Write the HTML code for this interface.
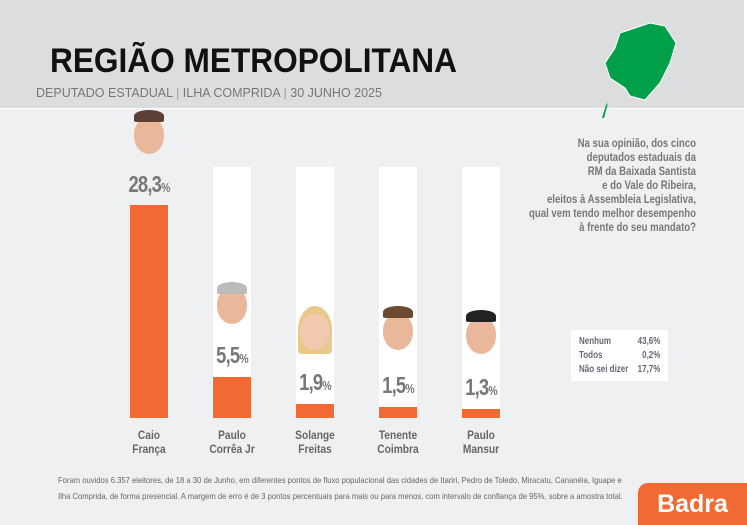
<!DOCTYPE html>
<html><head><meta charset="utf-8"><style>
body{margin:0;width:747px;height:525px;overflow:hidden;background:#fff;font-family:"Liberation Sans",sans-serif}
.hdr{position:absolute;left:0;top:0;width:744px;height:108px;background:#dcdddf}
.bd{position:absolute;left:0;top:109px;width:744px;height:416px;background:#eff0f2}
.t{position:absolute;left:50px;top:42px;font-size:34px;font-weight:bold;color:#111;white-space:nowrap;transform:scaleX(0.93);transform-origin:left}
.sub{position:absolute;left:36px;top:86px;font-size:12.5px;color:#777;white-space:nowrap}
.wb{position:absolute;top:167px;width:38px;height:251px;background:#fff}
.ob{position:absolute;width:38px;background:#f26a33;bottom:107px}
.pct{position:absolute;width:80px;text-align:center;font-weight:bold;color:#777;font-size:23px;letter-spacing:-1px;transform:scaleX(.8)}
.pct small{font-size:13px}
.nm{position:absolute;top:428px;width:80px;text-align:center;font-size:12px;font-weight:bold;color:#666;line-height:14px;transform:scaleX(.85)}
.face{position:absolute;width:30px;height:36px;border-radius:45% 45% 50% 50%;background:#e9b89a}
.hair{position:absolute;width:30px;height:12px;border-radius:50% 50% 10% 10%}
.q{position:absolute;left:440px;top:136px;width:256px;text-align:right;font-size:12px;font-weight:bold;color:#777;line-height:14px;white-space:nowrap;transform:scaleX(.8);transform-origin:right}
.box{position:absolute;left:571px;top:330px;width:97px;height:51px;background:#fff;font-size:10px;font-weight:bold;color:#667;line-height:14px}
.box div{transform:scaleX(.8)}
.ft{position:absolute;left:58px;top:472px;font-size:8.5px;color:#666;line-height:16px;white-space:nowrap;transform:scaleX(.9);transform-origin:left}
.badra{position:absolute;left:638px;top:483px;width:109px;height:42px;background:#f26a33;border-top-left-radius:10px;color:#fff;font-weight:bold;font-size:25px;text-align:center;line-height:42px}
</style></head><body>
<div class="hdr"></div><div class="bd"></div>
<div class="t">REGIÃO METROPOLITANA</div>
<div class="sub">DEPUTADO ESTADUAL <span style="color:#999">|</span> ILHA COMPRIDA <span style="color:#999">|</span> 30 JUNHO 2025</div>
<svg style="position:absolute;left:590px;top:18px" width="100" height="105" viewBox="0 0 100 105"><path d="M45 10 L60 5 L75 8 L86 25 L80 45 L70 65 L55 82 L40 78 L35 70 L20 60 L15 45 L25 30 L30 15Z" fill="#00a04a" stroke="#fff" stroke-width="1"/><path d="M18 85 L14 100 L12 100 L16 87Z" fill="#00a04a"/></svg>
<div class="wb" style="left:213px"></div><div class="wb" style="left:296px"></div><div class="wb" style="left:379px"></div><div class="wb" style="left:462px"></div>
<div class="ob" style="left:130px;height:213px"></div>
<div class="ob" style="left:213px;height:41px"></div>
<div class="ob" style="left:296px;height:14px"></div>
<div class="ob" style="left:379px;height:11px"></div>
<div class="ob" style="left:462px;height:9px"></div>
<div class="face" style="left:134px;top:118px"></div><div class="hair" style="left:134px;top:110px;background:#5a4035"></div>
<div class="face" style="left:217px;top:288px"></div><div class="hair" style="left:217px;top:282px;background:#bbb"></div>
<div class="hair" style="left:298px;top:306px;width:34px;height:48px;background:#e8c98a"></div><div class="face" style="left:300px;top:314px;background:#f0c9ae"></div>
<div class="face" style="left:383px;top:314px"></div><div class="hair" style="left:383px;top:306px;background:#6b4a30"></div>
<div class="face" style="left:466px;top:318px"></div><div class="hair" style="left:466px;top:310px;background:#222"></div>
<div class="pct" style="left:109px;top:171px">28,3<small>%</small></div>
<div class="pct" style="left:192px;top:342px">5,5<small>%</small></div>
<div class="pct" style="left:275px;top:369px">1,9<small>%</small></div>
<div class="pct" style="left:358px;top:372px">1,5<small>%</small></div>
<div class="pct" style="left:441px;top:374px">1,3<small>%</small></div>
<div class="nm" style="left:109px">Caio<br>França</div>
<div class="nm" style="left:192px">Paulo<br>Corrêa Jr</div>
<div class="nm" style="left:275px">Solange<br>Freitas</div>
<div class="nm" style="left:358px">Tenente<br>Coimbra</div>
<div class="nm" style="left:441px">Paulo<br>Mansur</div>
<div class="q">Na sua opinião, dos cinco<br>deputados estaduais da<br>RM da Baixada Santista<br>e do Vale do Ribeira,<br>eleitos à Assembleia Legislativa,<br>qual vem tendo melhor desempenho<br>à frente do seu mandato?</div>
<div class="box"><div style="position:absolute;left:8px;top:5px;transform-origin:left">Nenhum<br>Todos<br>Não sei dizer</div><div style="position:absolute;right:8px;top:5px;text-align:right;transform-origin:right">43,6%<br>0,2%<br>17,7%</div></div>
<div class="ft">Foram ouvidos 6.357 eleitores, de 18 a 30 de Junho, em diferentes pontos de fluxo populacional das cidades de Itariri, Pedro de Toledo, Miracatu, Cananéia, Iguape e<br>Ilha Comprida, de forma presencial. A margem de erro é de 3 pontos percentuais para mais ou para menos, com intervalo de confiança de 95%, sobre a amostra total.</div>
<div class="badra">Badra</div>
</body></html>
